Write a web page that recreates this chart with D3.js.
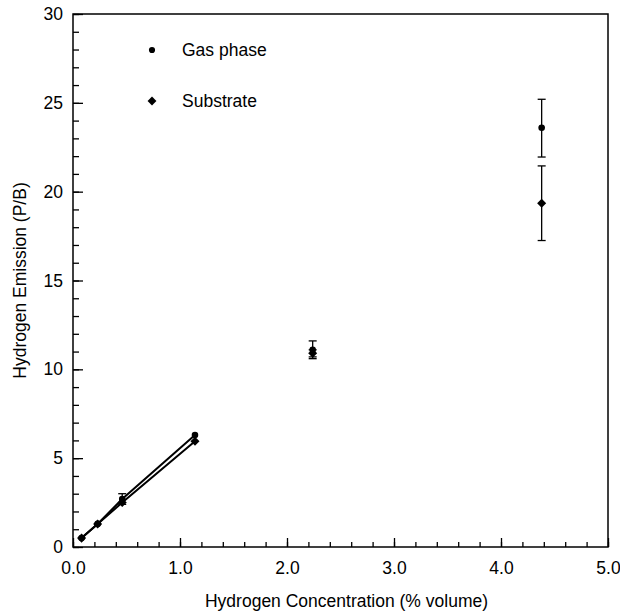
<!DOCTYPE html>
<html>
<head>
<meta charset="utf-8">
<script src="https://cdn.jsdelivr.net/npm/d3@7"></script>
<style>
  body { margin: 0; background: #fff; }
  text { font-family: "Liberation Sans", Arial, Helvetica, sans-serif; }
</style>
</head>
<body>
<svg id="chart" width="620" height="614"></svg>
<script>
// concentration (% volume)
const concentration = [0.08, 0.23, 0.46, 1.14, 2.24, 4.38];
const gasPhase = [0.5, 1.3, 2.7, 6.3, 11.1, 23.6];
const gasErrLow = [0.5, 1.3, 2.4, 6.3, 10.6, 21.95];
const gasErrHigh = [0.5, 1.3, 3.0, 6.3, 11.6, 25.2];
const substrate = [0.5, 1.3, 2.5, 5.95, 10.9, 19.35];
const subErrLow = [0.5, 1.3, 2.5, 5.95, 10.7, 17.25];
const subErrHigh = [0.5, 1.3, 2.5, 5.95, 11.1, 21.45];
const fitCount = 4; // lines drawn through the first points
const xTickLabels = ["0.0", "1.0", "2.0", "3.0", "4.0", "5.0"];
const yTickValues = [0, 5, 10, 15, 20, 25, 30];

const svg = d3.select("#chart");
const margin = { left: 73, right: 12, top: 14, bottom: 67 };
const width = +svg.attr("width"), height = +svg.attr("height");
const fontSize = "17.5px";

const x = d3.scaleLinear().domain([0, 5]).range([margin.left, width - margin.right]);
const y = d3.scaleLinear().domain([0, 30]).range([height - margin.bottom, margin.top]);

const g = svg.append("g");

// minor ticks
g.append("g")
  .attr("transform", `translate(0,${y(0)})`)
  .call(d3.axisBottom(x).tickValues(d3.range(0, 5.01, 0.2)).tickSize(-5).tickFormat(""))
  .call((a) => a.select(".domain").remove());
g.append("g")
  .attr("transform", `translate(${x(0)},0)`)
  .call(d3.axisLeft(y).tickValues(d3.range(0, 30.01, 1)).tickSize(-6).tickFormat(""))
  .call((a) => a.select(".domain").remove());

// major ticks
const xAxis = g.append("g")
  .attr("transform", `translate(0,${y(0)})`)
  .call(d3.axisBottom(x).ticks(5).tickSize(-9).tickPadding(15).tickFormat((d, i) => xTickLabels[i]));
xAxis.select(".domain").remove();
const yAxis = g.append("g")
  .attr("transform", `translate(${x(0)},0)`)
  .call(d3.axisLeft(y).tickValues(yTickValues).tickSize(-10).tickPadding(10));
yAxis.select(".domain").remove();

[xAxis, yAxis].forEach((a) => {
  a.selectAll("text").style("font-size", fontSize).attr("fill", "#000");
});
g.selectAll(".tick line").attr("stroke", "#000").attr("stroke-width", 1.3);

// frame
svg.append("rect")
  .attr("x", x(0)).attr("y", y(30))
  .attr("width", x(5) - x(0)).attr("height", y(0) - y(30))
  .attr("fill", "none").attr("stroke", "#000").attr("stroke-width", 1.5);

// axis titles
svg.append("text")
  .attr("x", (x(0) + x(5)) / 2 + 6).attr("y", 607)
  .attr("text-anchor", "middle").style("font-size", fontSize)
  .text("Hydrogen Concentration (% volume)");
svg.append("text")
  .attr("transform", `translate(26,${(y(0) + y(30)) / 2}) rotate(-90)`)
  .attr("text-anchor", "middle").style("font-size", fontSize)
  .text("Hydrogen Emission (P/B)");

const series = [
  { name: "Gas phase", values: gasPhase, lo: gasErrLow, hi: gasErrHigh, shape: d3.symbolCircle, size: 34, legendSize: 30 },
  { name: "Substrate", values: substrate, lo: subErrLow, hi: subErrHigh, shape: d3.symbolDiamond2, size: 52, legendSize: 50 },
];

const line = d3.line().x((d) => x(d[0])).y((d) => y(d[1]));

series.forEach((s) => {
  const pts = concentration.map((c, i) => [c, s.values[i], s.lo[i], s.hi[i]]);
  svg.append("path")
    .datum(pts.slice(0, fitCount))
    .attr("d", line)
    .attr("fill", "none").attr("stroke", "#000").attr("stroke-width", 2);

  const eb = svg.append("g").selectAll("g")
    .data(pts.filter((p) => p[3] - p[2] > 0.01))
    .join("g");
  eb.append("line")
    .attr("x1", (d) => x(d[0])).attr("x2", (d) => x(d[0]))
    .attr("y1", (d) => y(d[2])).attr("y2", (d) => y(d[3]))
    .attr("stroke", "#000").attr("stroke-width", 1.3);
  [2, 3].forEach((k) => {
    eb.append("line")
      .attr("x1", (d) => x(d[0]) - 4).attr("x2", (d) => x(d[0]) + 4)
      .attr("y1", (d) => y(d[k])).attr("y2", (d) => y(d[k]))
      .attr("stroke", "#000").attr("stroke-width", 1.3);
  });

  svg.append("g").selectAll("path")
    .data(pts)
    .join("path")
    .attr("transform", (d) => `translate(${x(d[0])},${y(d[1])})`)
    .attr("d", d3.symbol(s.shape, s.size))
    .attr("fill", "#000");
});

// legend
const legend = svg.append("g").selectAll("g")
  .data(series)
  .join("g")
  .attr("transform", (d, i) => `translate(152,${50 + i * 51})`);
legend.append("path")
  .attr("d", (d) => d3.symbol(d.shape, d.legendSize)())
  .attr("fill", "#000");
legend.append("text")
  .attr("x", 30).attr("y", 6)
  .style("font-size", fontSize)
  .text((d) => d.name);
</script>
</body>
</html>
